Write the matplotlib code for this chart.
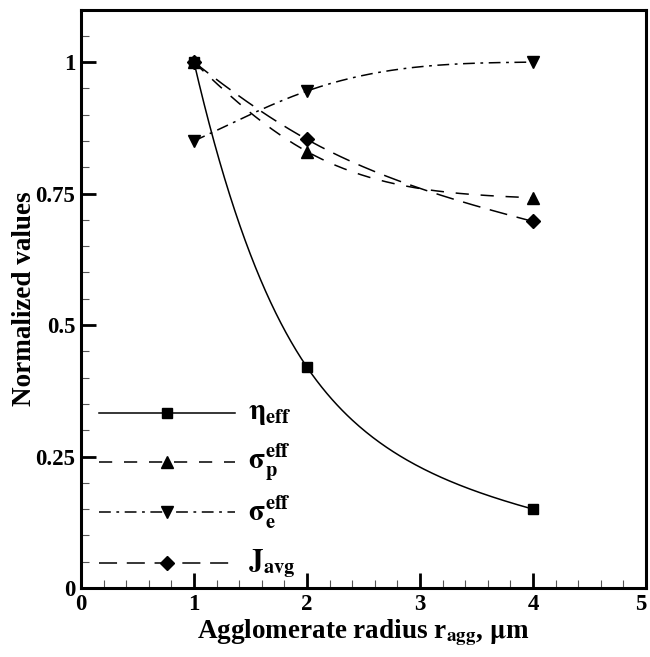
import matplotlib
import matplotlib.pyplot as plt
import numpy as np
from matplotlib.ticker import MultipleLocator, FixedLocator

matplotlib.use("agg")

# data
radius = [1, 2, 4]
eta_eff = [1.0, 0.42, 0.15]
sigma_p_eff = [1.0, 0.83, 0.742]
sigma_e_eff = [0.85, 0.945, 1.0]
j_avg = [1.0, 0.853, 0.697]

x_ticks = [0, 1, 2, 3, 4, 5]
y_ticks = [0, 0.25, 0.5, 0.75, 1.0]
y_tick_labels = ["0", "0.25", "0.5", "0.75", "1"]

labels = [
    r"$\mathrm{\eta}_{\mathbf{eff}}$",
    r"$\mathrm{\sigma}_{\mathbf{p}}^{\mathbf{eff}}$",
    r"$\mathrm{\sigma}_{\mathbf{e}}^{\mathbf{eff}}$",
    r"$\mathbf{J}_{\mathbf{avg}}$",
]

plt.rcParams["font.family"] = ["Liberation Serif", "DejaVu Serif"]
plt.rcParams["font.weight"] = "bold"
plt.rcParams["mathtext.fontset"] = "stix"
plt.rcParams["lines.scale_dashes"] = False


def smooth(x, y, n=200):
    # natural cubic spline through the points, done in log space
    x = np.asarray(x, float)
    ly = np.log(np.asarray(y, float))
    k = len(x)
    h = np.diff(x)
    A = np.zeros((k, k))
    b = np.zeros(k)
    A[0, 0] = A[-1, -1] = 1.0
    for i in range(1, k - 1):
        A[i, i - 1] = h[i - 1]
        A[i, i] = 2 * (h[i - 1] + h[i])
        A[i, i + 1] = h[i]
        b[i] = 6 * ((ly[i + 1] - ly[i]) / h[i] - (ly[i] - ly[i - 1]) / h[i - 1])
    M = np.linalg.solve(A, b)
    xs = np.linspace(x[0], x[-1], n)
    idx = np.clip(np.searchsorted(x, xs) - 1, 0, k - 2)
    x0, x1 = x[idx], x[idx + 1]
    hh = x1 - x0
    t0, t1 = x1 - xs, xs - x0
    ys = (M[idx] * t0 ** 3 / (6 * hh) + M[idx + 1] * t1 ** 3 / (6 * hh)
          + (ly[idx] / hh - M[idx] * hh / 6) * t0
          + (ly[idx + 1] / hh - M[idx + 1] * hh / 6) * t1)
    return xs, np.exp(ys)


series = [eta_eff, sigma_p_eff, sigma_e_eff, j_avg]
styles = [
    ("-", "s", 7),
    ((0, (9.5, 8.5)), "^", 8),
    ((0, (8.5, 4, 2, 4)), "v", 8),
    ((0, (13, 7)), "D", 7),
]

fig = plt.figure(figsize=(6.5, 6.57), dpi=100)
ax = fig.add_axes([0.1246, 0.105, 0.8692, 0.8805])

for vals, (ls, mk, ms) in zip(series, styles):
    xs, ys = smooth(radius, vals)
    ax.plot(xs, ys, color="black", linestyle=ls, linewidth=1.1, zorder=3)
    ax.plot(radius, vals, linestyle="none", marker=mk, markersize=ms,
            color="black", zorder=4)

# legend drawn by hand in axes coordinates
leg_y = [0.3017, 0.2181, 0.1307, 0.0433]
for yy, lab, (ls, mk, ms) in zip(leg_y, labels, styles):
    ax.plot([0.032, 0.272], [yy, yy], transform=ax.transAxes, color="black",
            linestyle=ls, linewidth=1.1, clip_on=False)
    ax.plot([0.152], [yy], transform=ax.transAxes, marker=mk, markersize=ms,
            color="black", linestyle="none")
    ax.text(0.295, yy, lab, transform=ax.transAxes, fontsize=21,
            va="center", ha="left")

ax.set_xlim(0, 5)
ax.set_ylim(0, 1.1)
ax.set_xticks(x_ticks)
ax.xaxis.set_minor_locator(MultipleLocator(0.2))
ax.yaxis.set_major_locator(FixedLocator(y_ticks))
ax.yaxis.set_minor_locator(MultipleLocator(0.05))
ax.set_yticklabels(y_tick_labels)
xlabels = ax.set_xticklabels([str(t) for t in x_ticks])
# keep the last label inside the figure
xlabels[-1].set_horizontalalignment("right")
xlabels[-1].set_x(4.99)

for s in ax.spines.values():
    s.set_linewidth(2.2)

ax.tick_params(which="major", direction="in", length=10.5, width=2,
               labelsize=16.5, pad=4)
ax.tick_params(which="minor", direction="in", length=6, width=0.8,
               color="#555555")
ax.tick_params(top=False, right=False, which="both")

ax.set_xlabel(r"Agglomerate radius r$_{\mathbf{agg}}$, $\mathrm{\mu}$m",
              fontsize=19.5, fontweight="bold", labelpad=2)
ax.set_ylabel("Normalized values", fontsize=19.5, fontweight="bold", labelpad=-1)

fig.savefig("out.png", dpi=100, facecolor="white")
plt.close(fig)
